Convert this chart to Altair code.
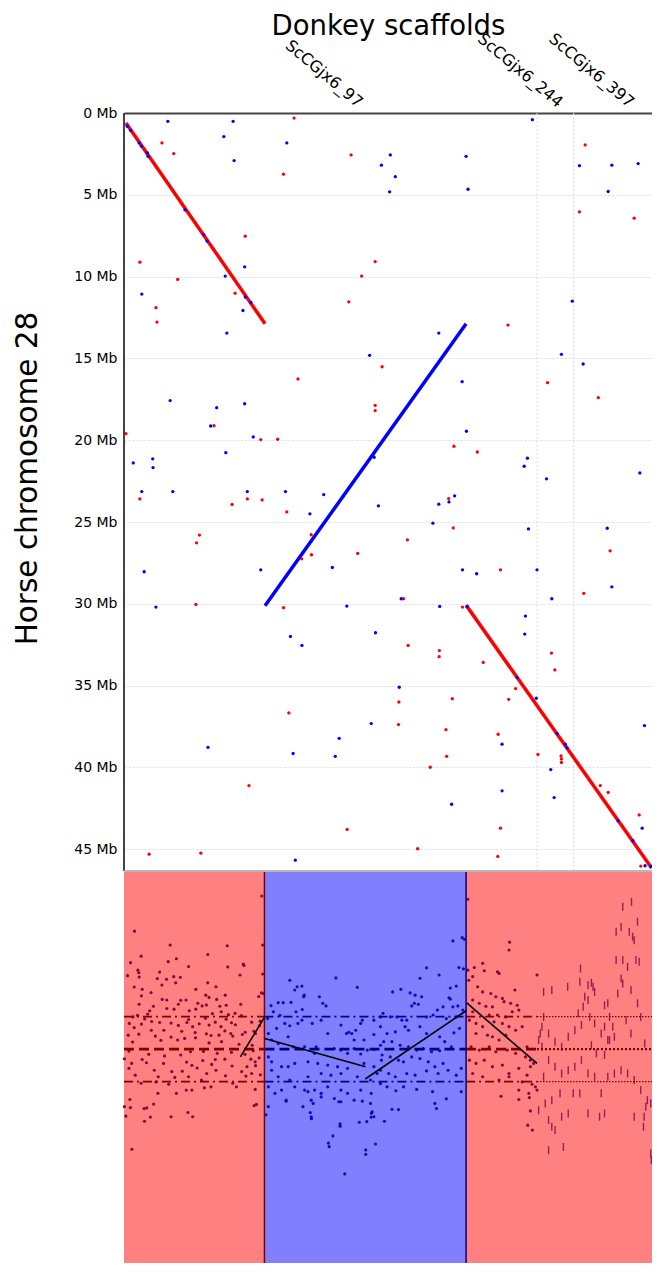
import altair as alt
import pandas as pd

# ---------------- layout values ----------------
PLOT_W, PLOT_H = 528, 1150          # one canvas holding both panels
X_MAX = 45.64                       # donkey scaffold coordinate span (Mb)
Y_MAX_TOP = 46.33                   # horse chr28 span (Mb), top panel
Y_DOMAIN_TOP = 70.29                # top-panel scale extended over the whole canvas
SCORE_LOW, SCORE_HIGH = -6.58, 28.8 # bottom-panel scale over the whole canvas
PANEL_TOP_SCORE = 5.48              # score at the upper edge of the bottom panel

scaffold_names = ["ScCGjx6_97", "ScCGjx6_244", "ScCGjx6_397"]
scaffold_label_pos = [19.95, 37.25, 43.4]
scaffold_breaks = [35.70, 38.86]
horse_ticks = [0, 5, 10, 15, 20, 25, 30, 35, 40, 45]

# ---------------- top panel: main alignment blocks ----------------
block_id = ["b1", "b1", "b2", "b2", "b3", "b3"]
block_cat = ["fwd", "fwd", "rev", "rev", "fwd", "fwd"]
block_donkey = [0.17, 12.19, 12.19, 29.57, 29.57, 45.61]
block_horse = [0.61, 12.88, 30.12, 12.88, 30.08, 46.15]

# ---------------- top panel: scattered hits ----------------
red_x = [14.70, 3.28, 4.30, 19.63, 13.79, 10.48, 1.37, 4.64, 20.54, 21.71,
         9.60, 2.76, 2.85, 19.43, 15.04, 22.31, 21.71, 21.71, 7.78, 11.82,
         13.28, 0.17,
         39.86, 39.37, 44.10, 33.19, 36.61, 41.00, 28.52, 30.54,
         1.37, 9.34, 10.66, 11.94, 14.07, 6.52, 6.27, 16.18, 15.36, 16.21,
         20.20, 6.21, 13.79, 14.25, 10.80, 19.29, 2.17, 6.64,
         28.06, 28.46, 24.50, 32.54, 24.16, 29.26, 42.02, 39.74, 24.56, 27.26,
         27.24, 31.05, 36.95, 37.24, 33.85, 33.25, 28.38, 23.76, 23.73, 27.83,
         32.34, 35.78, 37.78, 37.81, 37.81, 27.89, 26.47, 41.17, 41.85, 44.53,
         32.54, 25.38, 32.31, 44.67]
red_y = [0.31, 1.83, 2.48, 2.56, 3.74, 7.53, 9.12, 10.17, 9.97, 9.08,
         11.01, 11.90, 12.78, 11.54, 16.26, 15.51, 17.87, 18.19, 19.11, 19.96,
         19.94, 19.60,
         1.95, 6.04, 6.43, 12.96, 16.48, 17.40, 20.37, 20.72,
         23.59, 23.93, 23.59, 23.65, 24.38, 25.80, 26.27, 25.78, 27.25, 27.00,
         26.92, 30.04, 30.24, 36.67, 41.11, 43.79, 45.30, 45.24,
         23.57, 25.36, 26.09, 27.92, 29.69, 30.20, 26.76, 29.36, 32.54, 32.86,
         33.23, 33.58, 33.01, 34.04, 35.18, 35.84, 35.80, 36.00, 37.38, 37.69,
         37.97, 39.21, 39.30, 39.48, 39.70, 39.32, 39.99, 41.11, 41.53, 42.90,
         43.71, 44.97, 45.44, 46.03]

blue_x = [3.79, 9.43, 8.63, 9.52, 14.07, 22.25, 0.28, 0.57, 1.31, 1.51,
          2.02, 2.08, 5.27, 6.89, 7.18, 10.43, 8.75, 1.54, 10.48, 10.97,
          10.28, 8.89, 21.23, 3.99, 10.43, 8.01, 7.49, 11.17, 8.80, 0.80,
          2.48, 2.51, 21.62, 1.54, 4.22, 10.66, 13.96,
          35.30, 23.02, 29.57, 23.45, 22.96, 29.74, 39.37, 42.17, 44.44, 41.85,
          38.75, 27.21, 37.81, 39.69, 29.23, 29.60, 34.87, 34.59, 36.52, 44.59,
          17.26, 21.99, 16.07, 1.74, 11.82, 18.01, 2.76, 19.26, 14.39, 15.38,
          21.74, 21.37, 18.60, 7.26, 14.62, 18.26, 14.81,
          28.58, 27.21, 28.09, 26.70, 34.96, 41.77, 29.26, 30.48, 35.70, 42.17,
          23.96, 36.98, 27.29, 34.70, 34.64, 23.79, 35.64, 44.99, 32.68, 36.89,
          32.68, 37.18, 28.32, 44.79, 45.04, 33.99, 37.44, 38.15, 38.30, 42.71,
          43.99, 45.56, 29.66]
blue_y = [0.51, 0.51, 1.44, 2.91, 1.83, 3.19, 0.81, 1.06, 1.83, 2.03,
          2.44, 2.65, 5.92, 7.43, 7.83, 9.40, 9.97, 11.07, 11.25, 11.58,
          12.07, 13.45, 14.81, 17.58, 17.77, 18.01, 19.13, 19.80, 20.76, 21.39,
          21.14, 21.67, 21.04, 23.14, 23.14, 23.14, 23.14,
          0.41, 2.56, 2.65, 3.89, 4.82, 4.66, 3.22, 3.19, 3.09, 4.80,
          11.50, 13.45, 14.75, 15.34, 16.42, 19.45, 21.10, 21.59, 22.36, 22.00,
          23.32, 24.01, 24.50, 28.04, 27.92, 27.78, 30.20, 30.14, 31.99, 32.54,
          31.77, 37.32, 38.22, 38.77, 39.15, 39.32, 45.67,
          23.40, 23.91, 23.77, 25.07, 25.42, 25.38, 27.92, 28.16, 27.92, 28.96,
          29.69, 29.69, 30.16, 30.75, 31.85, 35.10, 35.77, 37.44, 38.58, 40.13,
          41.43, 41.84, 42.25, 43.71, 46.01, 34.51, 37.93, 38.58, 38.80, 43.26,
          44.48, 46.05, 30.18]

# ---------------- bottom panel: segments and scores ----------------
seg_start = [0.0, 12.14, 29.57]
seg_end = [12.14, 29.57, 45.64]
seg_cat = ["bg_fwd", "bg_rev", "bg_fwd"]

edge_pos = [12.14, 29.57]
edge_cat = ["ln_fwd", "ln_rev"]

band_start = [0.0, 12.14, 29.57, 35.70]
band_end = [12.14, 29.57, 35.70, 45.64]
band_cat = ["ln_fwd", "ln_rev", "ln_fwd", "ln_fwd"]
band_style = ["dash", "dash", "dash", "dot"]
level_values = [1.0, 0.0, -1.0]

trend_x0 = [10.06, 12.16, 20.85, 29.63]
trend_x1 = [12.16, 20.88, 29.57, 35.70]
trend_y0 = [-0.24, 0.33, -0.92, 1.42]
trend_y1 = [0.99, -0.54, 1.18, -0.44]

A_x = [11.91, 0.91, 3.99, 8.92, 11.99, 1.48, 4.53, 7.24, 0.57, 3.82,
       8.97, 10.31, 10.37, 5.58, 1.20, 1.28, 3.08, 0.31, 11.99, 10.03,
       4.30, 4.87, 3.68, 1.31, 2.88, 3.28, 4.47, 6.21, 7.24, 7.95,
       0.88, 1.57, 2.34, 1.51, 3.30, 7.07, 8.75, 7.35, 5.36, 3.70,
       4.90, 4.70, 1.31, 2.54, 6.38, 7.12, 6.75, 8.29, 8.83, 8.01,
       10.09, 11.88, 12.05, 11.65, 3.70, 2.22, 4.33, 5.64, 6.21, 8.40,
       7.64, 9.60, 9.03, 2.05, 1.17, 0.77, 1.79, 5.58, 7.04, 8.83,
       10.14, 11.77, 2.39, 3.08, 4.07, 5.44, 6.50, 7.89, 9.29, 0.46,
       1.51, 4.70, 5.93, 7.35, 8.38, 9.63, 11.03, 11.37, 0.88, 2.36,
       3.45, 4.99, 6.15, 7.12, 8.72, 9.23, 10.23, 11.23, 11.71, 0.37,
       1.28, 2.71, 4.07, 5.24, 6.18, 7.52, 8.21, 9.40, 10.48, 0.74,
       3.19, 4.64, 7.35, 8.43, 9.94, 11.08, 0.43, 2.14, 3.50, 4.90,
       5.75, 6.87, 8.06, 9.29, 10.46, 11.17, 0.03, 1.57, 5.41, 6.81,
       7.89, 8.72, 10.97, 11.34, 11.68, 0.66, 1.94, 3.42, 5.87, 6.32,
       7.58, 9.34, 10.63, 11.37, 0.43, 2.62, 4.13, 5.04, 7.15, 7.95,
       10.17, 11.03, 0.97, 2.96, 4.39, 5.58, 6.70, 8.77, 10.54, 11.79,
       1.48, 2.76, 3.87, 5.38, 5.87, 9.40, 6.95, 7.52, 11.34, 9.72,
       2.93, 4.53, 1.97, 1.74, 11.45, 11.25, 0.51, 0.03, 5.53, 2.28,
       4.07, 0.55, 0.16, 5.94, 1.77, 0.68, 2.56]
A_y = [4.71, 3.63, 3.20, 3.18, 3.20, 2.86, 2.78, 2.91, 2.66, 2.69,
       2.53, 2.62, 2.57, 2.54, 2.43, 2.35, 2.37, 2.26, 2.31, 2.28,
       2.23, 2.21, 2.15, 2.22, 2.17, 1.97, 2.04, 1.84, 2.04, 1.92,
       1.91, 1.84, 1.74, 1.64, 1.53, 1.66, 1.66, 1.59, 1.51, 1.51,
       1.50, 1.38, 1.38, 1.32, 1.41, 1.36, 1.33, 1.32, 1.35, 1.53,
       1.38, 1.73, 1.71, 1.62, 1.25, 1.18, 1.23, 1.18, 1.23, 1.15,
       1.09, 1.10, 1.06, 1.08, 1.04, 0.99, 0.93, 0.91, 0.95, 0.92,
       1.03, 0.86, 0.85, 0.82, 0.80, 0.82, 0.78, 0.83, 0.81, 0.79,
       0.77, 0.73, 0.69, 0.74, 0.69, 0.75, 0.83, 0.48, 0.66, 0.58,
       0.58, 0.55, 0.51, 0.47, 0.56, 0.48, 0.45, 0.55, 0.72, 0.43,
       0.46, 0.40, 0.37, 0.33, 0.35, 0.42, 0.43, 0.40, 0.52, 0.22,
       0.27, 0.28, 0.19, 0.23, 0.15, 0.12, -0.06, -0.16, -0.21, -0.18,
       -0.08, -0.07, -0.13, -0.10, -0.16, -0.05, -0.30, -0.32, -0.40, -0.35,
       -0.32, -0.31, -0.31, -0.39, -0.27, -0.44, -0.42, -0.44, -0.50, -0.58,
       -0.47, -0.52, -0.54, -0.51, -0.59, -0.65, -0.69, -0.68, -0.75, -0.65,
       -0.69, -0.75, -0.80, -0.85, -0.87, -0.85, -0.95, -0.82, -0.83, -0.79,
       -1.05, -1.01, -1.08, -1.26, -1.26, -1.05, -1.19, -1.16, -1.24, -1.16,
       -1.36, -1.36, -1.81, -1.83, -1.70, -1.74, -1.55, -1.77, -1.95, -2.09,
       -2.08, -1.80, -2.06, -2.08, -2.22, -3.08, -1.69]

B_x = [14.33, 18.32, 20.17, 14.96, 15.38, 14.76, 15.58, 15.53, 13.33, 13.76,
       14.44, 16.89, 17.18, 17.46, 14.87, 15.41, 12.71, 12.91, 12.42, 13.48,
       13.90, 13.19, 14.33, 15.04, 15.38, 16.27, 17.04, 17.61, 18.75, 19.23,
       19.43, 19.69, 20.03, 20.46, 20.60, 21.60, 22.17, 21.60, 20.74, 19.89,
       18.75, 18.18, 19.32, 19.89, 20.46, 21.03, 21.60, 22.17, 12.48, 12.76,
       13.33, 14.19, 14.62, 15.61, 16.61, 16.47, 12.48, 12.76, 13.62, 14.19,
       14.76, 15.90, 16.75, 17.61, 18.46, 19.32, 20.74, 21.60, 22.25, 12.76,
       13.33, 14.33, 15.90, 17.04, 17.89, 18.75, 20.17, 21.31, 21.88, 12.48,
       13.05, 13.62, 14.76, 15.61, 15.90, 16.47, 17.04, 17.61, 18.75, 19.32,
       20.46, 21.37, 12.48, 14.02, 16.18, 17.04, 18.18, 18.75, 19.89, 21.31,
       21.45, 21.60, 16.10, 16.18, 15.47,
       12.27, 14.01, 16.20, 16.35, 18.57, 20.60, 17.67, 17.73, 18.06, 18.68,
       18.68, 19.08, 20.34, 20.99, 20.90, 20.90, 21.74, 21.36, 21.39,
       29.23, 29.43, 28.43, 28.95, 29.34, 26.15, 25.58, 27.24, 28.72, 28.21,
       23.22, 23.93, 24.73, 25.16, 25.73, 28.09, 28.21, 27.58, 27.09, 28.43,
       28.86, 24.87, 25.10, 25.44, 22.39, 23.02, 23.59, 24.44, 26.15, 26.72,
       27.86, 28.72, 29.29, 22.17, 22.74, 23.45, 24.02, 24.30, 24.59, 25.58,
       26.15, 27.29, 27.72, 28.52, 29.00, 22.45, 23.16, 23.87, 24.59, 25.30,
       25.87, 26.58, 27.29, 28.29, 22.31, 23.02, 23.73, 24.16, 24.87, 25.58,
       26.30, 26.87, 27.58, 29.15, 22.17, 22.88, 23.45, 24.44, 25.16, 26.15,
       27.15, 28.01, 28.72, 22.17, 22.74, 23.50, 24.16, 25.30, 26.67, 27.86,
       26.87, 27.01, 23.16, 23.73, 22.51, 29.15]
B_y = [2.12, 2.19, 1.90, 1.92, 1.94, 1.82, 1.66, 1.61, 1.43, 1.43,
       1.44, 1.61, 1.41, 1.33, 1.15, 1.22, 1.34, 1.15, 0.94, 1.04,
       0.79, 0.64, 0.72, 0.79, 0.89, 0.79, 0.89, 0.48, 0.74, 0.48,
       0.52, 0.48, 0.58, 0.79, 0.89, 0.89, 0.99, 0.45, 0.28, 0.28,
       -0.03, 0.02, -0.13, 0.02, -0.15, -0.03, -0.01, 0.12, 0.48, 0.28,
       0.17, 0.38, 0.07, 0.07, 0.07, -0.13, -0.24, -0.39, -0.54, -0.54,
       -0.44, -0.39, -0.44, -0.49, -0.54, -0.59, -0.44, -0.54, -0.34, -0.65,
       -0.85, -0.95, -0.85, -0.75, -0.80, -0.75, -0.85, -0.95, -0.75, -1.16,
       -1.36, -1.26, -1.16, -1.26, -1.31, -1.26, -1.36, -1.16, -1.26, -1.36,
       -1.26, -1.36, -1.77, -1.57, -1.57, -1.47, -1.52, -1.62, -1.57, -1.67,
       -1.93, -2.08, -1.95, -2.08, -1.77,
       -2.02, -1.60, -2.14, -1.67, -1.62, -1.60, -2.89, -3.00, -2.67, -2.30,
       -2.37, -3.84, -2.25, -2.23, -3.10, -3.24, -2.92, -2.09, -1.97,
       3.43, 3.38, 3.33, 2.51, 2.47, 2.50, 2.18, 2.28, 1.94, 1.88,
       1.76, 1.84, 1.73, 1.66, 1.61, 1.58, 1.54, 1.30, 1.20, 1.30,
       1.33, 1.33, 1.41, 1.38, 1.10, 0.99, 0.99, 0.89, 0.99, 1.05,
       0.94, 0.99, 1.20, 0.69, 0.48, 0.53, 0.89, 0.69, 0.58, 0.69,
       0.48, 0.38, 0.23, 0.50, 0.64, 0.23, 0.23, 0.12, 0.07, -0.03,
       0.02, -0.08, -0.05, 0.07, -0.18, -0.24, -0.34, -0.39, -0.24, -0.29,
       -0.39, -0.54, -0.44, -0.59, -0.65, -0.75, -0.85, -0.75, -0.80, -0.67,
       -0.75, -0.65, -0.80, -1.06, -1.16, -1.28, -1.16, -1.24, -1.31, -1.53,
       -1.67, -1.83, -1.85, -1.86, -2.22, -1.31]

C_x = [29.72, 33.33, 33.28, 31.00, 30.28, 29.72, 30.14, 31.14, 32.28, 32.42,
       29.80, 30.57, 35.70, 31.00, 31.71, 32.14, 32.71, 33.79, 32.85, 33.42,
       33.99, 30.14, 30.71, 31.28, 31.85, 30.14, 31.57, 32.28, 33.00, 33.56,
       34.13, 29.86, 30.43, 31.00, 31.99, 32.71, 33.28, 33.85, 30.43, 31.42,
       31.85, 32.42, 33.00, 34.42, 34.84, 30.00, 30.71, 31.57, 32.14, 33.13,
       33.85, 34.70, 35.13, 35.41, 29.86, 30.43, 31.14, 31.85, 32.71, 33.28,
       34.13, 34.84, 35.13, 30.14, 31.00, 32.42, 33.28, 34.42, 35.27, 34.13,
       34.99, 35.56, 32.59, 34.13, 35.04, 35.70, 35.13, 34.90, 35.30]
C_y = [4.61, 3.29, 3.05, 2.64, 2.51, 2.43, 2.23, 2.41, 2.38, 2.33,
       2.12, 1.92, 2.28, 1.76, 1.71, 1.61, 1.56, 1.82, 1.46, 1.41,
       1.35, 1.51, 1.41, 1.32, 1.30, 1.15, 1.05, 1.05, 0.99, 1.15,
       1.20, 0.89, 0.79, 0.69, 0.84, 0.79, 0.69, 0.58, 0.48, 0.43,
       0.38, 0.28, 0.43, 0.69, 0.07, 0.07, -0.03, 0.07, -0.08, -0.03,
       -0.13, -0.24, -0.34, -0.44, -0.34, -0.44, -0.34, -0.54, -0.49, -0.75,
       -0.59, -0.80, -0.54, -0.75, -0.85, -0.95, -0.85, -1.01, -1.08, -1.26,
       -1.36, -1.16, -1.45, -1.55, -1.49, -1.26, -1.90, -2.34, -2.49]

D_x = [36.27, 36.98, 38.35, 39.46, 39.40, 40.11, 40.40, 40.54, 39.83, 39.69,
       39.26, 40.26, 41.54, 41.82, 43.11, 43.87, 42.97, 42.54, 43.68, 43.96,
       44.10, 44.39, 44.53, 44.25, 43.11, 42.54, 43.53, 43.82, 42.97, 43.11,
       42.68, 40.68, 40.11, 41.97, 42.25, 41.54, 42.39, 41.82, 41.25, 40.68,
       39.54, 38.97, 40.40, 40.83, 41.54, 41.97, 38.40, 37.83, 37.26, 36.70,
       36.27, 36.13, 35.98, 35.84, 36.13, 36.70, 37.26, 37.83, 38.40, 38.97,
       39.54, 40.11, 40.68, 41.82, 42.39, 42.97, 43.53, 44.10, 44.67, 45.24,
       45.10, 44.96, 44.90, 45.53, 45.58, 41.25, 41.54, 41.11, 40.11, 38.40,
       37.83, 36.70, 36.98, 37.26, 36.70, 37.98, 38.83, 37.69, 36.98, 36.41,
       35.84, 36.27, 39.40, 44.10, 45.53, 43.82, 43.40, 44.67, 44.39, 45.01]
D_y = [1.76, 1.82, 1.92, 2.48, 2.07, 1.97, 2.04, 1.92, 1.61, 1.30,
       1.10, 0.99, 1.35, 1.41, 4.38, 4.53, 3.76, 3.61, 3.61, 3.46,
       3.35, 3.92, 2.69, 2.74, 2.74, 2.74, 2.53, 1.82, 2.17, 2.02,
       1.71, 1.76, 1.51, 0.99, 0.69, 0.69, 0.38, 0.28, 0.48, 0.79,
       0.74, 0.58, 0.12, -0.13, -0.18, 0.28, 0.38, 0.07, 0.23, 0.48,
       0.99, 0.69, 0.48, 0.28, 0.07, -0.34, -0.54, -0.75, -0.65, -0.54,
       -0.34, -0.75, -0.85, -0.85, -0.75, -0.65, -0.75, -0.95, -1.26, -1.57,
       -1.77, -2.08, -2.39, -3.21, -3.42, -1.36, -1.98, -2.08, -1.98, -1.98,
       -2.08, -2.18, -2.39, -2.49, -3.11, -3.01, -1.36, -1.36, -1.57, -1.67,
       -1.88, -0.85, -1.36, -2.08, -1.67, 0.48, 0.89, 0.99, 1.41, 0.17]

# ---------------- tables ----------------
blocks = pd.DataFrame({"block": block_id, "cat": block_cat,
                       "donkey": block_donkey, "horse": block_horse})
hits = pd.concat([
    pd.DataFrame({"donkey": red_x, "horse": red_y, "cat": "fwd"}),
    pd.DataFrame({"donkey": blue_x, "horse": blue_y, "cat": "rev"}),
], ignore_index=True)
breaks = pd.DataFrame({"pos": scaffold_breaks, "y0": 0.0, "y1": Y_MAX_TOP})
left_border = pd.DataFrame({"pos": [0.0], "y0": [0.0], "y1": [Y_MAX_TOP]})

segs = pd.DataFrame({"start": seg_start, "end": seg_end, "cat": seg_cat,
                     "top": PANEL_TOP_SCORE, "bot": SCORE_LOW})
edges = pd.DataFrame({"pos": edge_pos, "cat": edge_cat,
                      "top": PANEL_TOP_SCORE, "bot": SCORE_LOW})
separator = pd.DataFrame({"start": [0.0], "end": [X_MAX], "level": [PANEL_TOP_SCORE]})
lvl_rows = []
for s, e, c, st in zip(band_start, band_end, band_cat, band_style):
    for lv in level_values:
        kind = ("mid_" if lv == 0 else "outer_") + st
        lvl_rows.append({"start": s, "end": e, "level": lv, "cat": c, "kind": kind})
levels = pd.DataFrame(lvl_rows)
trends = pd.DataFrame({"x0": trend_x0, "x1": trend_x1, "y0": trend_y0, "y1": trend_y1})
scores = pd.concat([
    pd.DataFrame({"pos": A_x, "score": A_y, "cat": "pt_fwd"}),
    pd.DataFrame({"pos": B_x, "score": B_y, "cat": "pt_rev"}),
    pd.DataFrame({"pos": C_x, "score": C_y, "cat": "pt_fwd"}),
], ignore_index=True)
dashes = pd.DataFrame({"pos": D_x, "score": D_y})

# ---------------- scales & axes ----------------
label_expr = " : ".join(f"datum.value == {p} ? '{n}'"
                        for p, n in zip(scaffold_label_pos, scaffold_names)) + " : ''"

x_scale = alt.Scale(domain=[0, X_MAX], nice=False, zero=False)
ytop_scale = alt.Scale(domain=[0, Y_DOMAIN_TOP], nice=False, zero=False, reverse=True)
ybot_scale = alt.Scale(domain=[SCORE_LOW, SCORE_HIGH], nice=False, zero=False)

x_axis = alt.Axis(orient="top", values=scaffold_label_pos, labelExpr=label_expr,
                  labelAngle=40, labelAlign="right", labelBaseline="bottom",
                  labelFontSize=16, labelPadding=3, labelOverlap=False,
                  labelFlush=False, labelColor="black", ticks=False, grid=False,
                  domainColor="#444444", domainWidth=2,
                  title="Donkey scaffolds", titleFontSize=27.5,
                  titleFontWeight="normal", titleColor="black",
                  titleBaseline="bottom", titleY=-73)
y_axis = alt.Axis(values=horse_ticks, labelExpr="datum.value + ' Mb'",
                  labelFontSize=14, labelPadding=7, labelColor="black", ticks=False,
                  domain=False,
                  grid=True, gridColor="#dcdcdc", gridDash=[2, 2], gridWidth=1,
                  title="Horse chromosome 28", titleFontSize=29.5,
                  titleFontWeight="normal", titleColor="black",
                  titleBaseline="bottom", titleX=-82, titleY=365)

def X(f):
    return alt.X(f"{f}:Q", scale=x_scale, axis=x_axis, title="Donkey scaffolds")

def YT(f):
    return alt.Y(f"{f}:Q", scale=ytop_scale, axis=y_axis, title="Horse chromosome 28")

def YB(f):
    return alt.Y(f"{f}:Q", scale=ybot_scale, axis=None)

cat_dom = ["fwd", "rev", "bg_fwd", "bg_rev", "pt_fwd", "pt_rev", "ln_fwd", "ln_rev"]
cat_rng = ["#ff0000", "#0000ff", "#ff8080", "#8080ff", "#7d0a3c", "#0a0ac8",
           "#800000", "#000080"]
COLOR = alt.Color("cat:N", scale=alt.Scale(domain=cat_dom, range=cat_rng), legend=None)

# ---------------- top panel layers ----------------
vgrid = alt.Chart(breaks).mark_rule(color="#dcdcdc", strokeDash=[2, 2], strokeWidth=1).encode(
    x=X("pos"), y=YT("y0"), y2="y1:Q")
lborder = alt.Chart(left_border).mark_rule(color="#444444", strokeWidth=2).encode(
    x=X("pos"), y=YT("y0"), y2="y1:Q")
blk = alt.Chart(blocks).mark_line(strokeWidth=3.5).encode(
    x=X("donkey"), y=YT("horse"), color=COLOR, detail="block:N")
pts = alt.Chart(hits).mark_circle(size=11, opacity=1).encode(
    x=X("donkey"), y=YT("horse"), color=COLOR)
top = alt.layer(vgrid, blk, pts, lborder)

# ---------------- bottom panel layers ----------------
bg = alt.Chart(segs).mark_rect().encode(x=X("start"), x2="end:Q",
                                        y=YB("top"), y2="bot:Q", color=COLOR)
dots = alt.Chart(scores).mark_circle(size=10, opacity=1).encode(
    x=X("pos"), y=YB("score"), color=COLOR)
ticks = alt.Chart(dashes).mark_tick(orient="vertical", size=8, thickness=1.4,
                                    color="#85154f", opacity=0.9).encode(
    x=X("pos"), y=YB("score"))
styles = {
    "outer_dash": dict(strokeDash=[9, 4, 2, 4], strokeWidth=1.8),
    "mid_dash": dict(strokeDash=[10, 5], strokeWidth=2.8),
    "outer_dot": dict(strokeDash=[1.5, 1.5], strokeWidth=1.2),
    "mid_dot": dict(strokeDash=[2, 2], strokeWidth=2.2),
}
level_layers = [
    alt.Chart(levels).transform_filter(alt.datum.kind == k).mark_rule(**st).encode(
        x=X("start"), x2="end:Q", y=YB("level"), color=COLOR)
    for k, st in styles.items()
]
edge_rules = alt.Chart(edges).mark_rule(strokeWidth=1.5).encode(
    x=X("pos"), y=YB("top"), y2="bot:Q", color=COLOR)
trend = alt.Chart(trends).mark_rule(color="black", strokeWidth=1.6).encode(
    x=X("x0"), x2="x1:Q", y=YB("y0"), y2="y1:Q")
sep = alt.Chart(separator).mark_rule(color="#b8b8b8", strokeWidth=2).encode(
    x=X("start"), x2="end:Q", y=YB("level"))
bottom = alt.layer(bg, dots, ticks, *level_layers, edge_rules, trend, sep)

chart = (
    alt.layer(top, bottom)
    .resolve_scale(y="independent")
    .properties(width=PLOT_W, height=PLOT_H,
                autosize=alt.AutoSizeParams(type="none"),
                padding={"left": 116, "top": 105, "right": 0, "bottom": 0})
    .configure(font="DejaVu Sans")
    .configure_view(stroke=None)
)

chart.save("out.html", embed_options={"renderer": "svg", "actions": False})
